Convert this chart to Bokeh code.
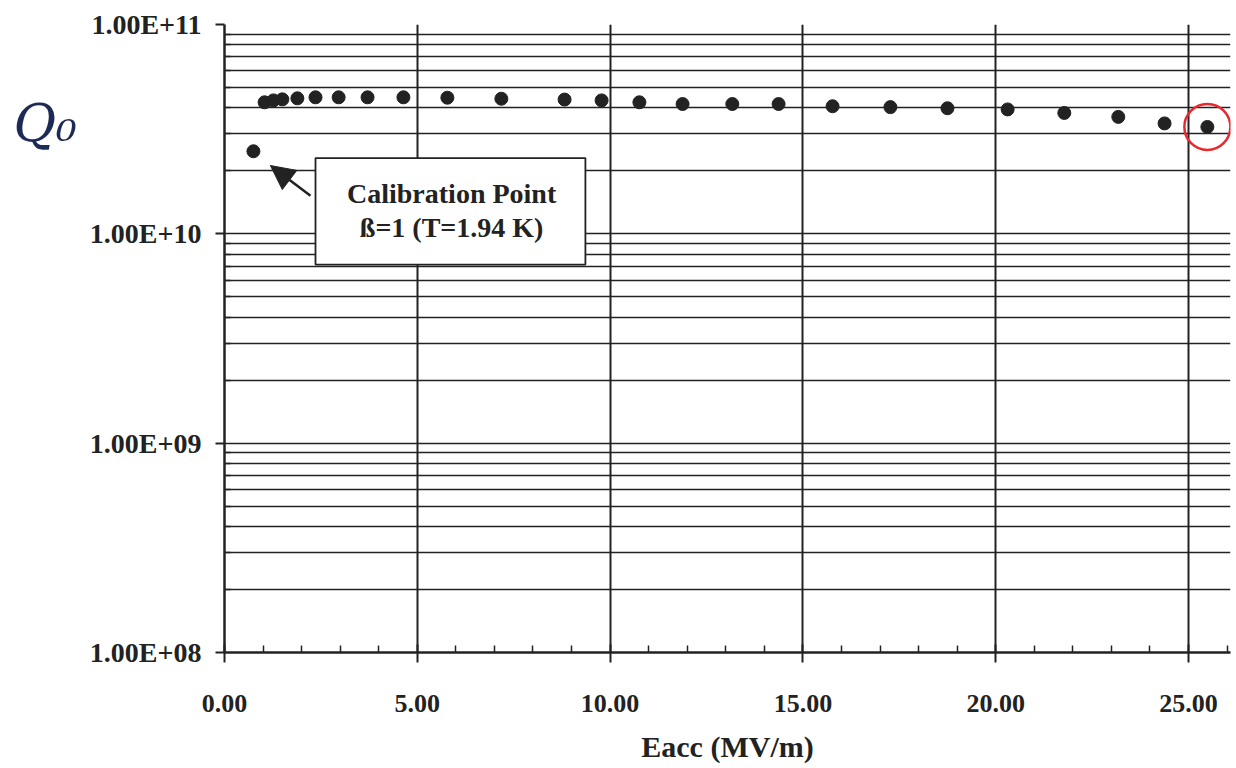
from bokeh.plotting import figure
from bokeh.models import (FixedTicker, CustomJSTickFormatter, Range1d, BoxAnnotation,
                          Label, Arrow, NormalHead)
from bokeh.embed import file_html
from bokeh.resources import INLINE

# ---- data ----
eacc = [0.75, 1.04, 1.27, 1.50, 1.89, 2.36, 2.96, 3.71, 4.64, 5.78, 7.18, 8.82, 9.78,
        10.76, 11.88, 13.17, 14.37, 15.77, 17.27, 18.75, 20.31, 21.78, 23.18, 24.38, 25.49]
q0 = [2.48e10, 4.25e10, 4.34e10, 4.39e10, 4.44e10, 4.49e10, 4.49e10, 4.49e10, 4.49e10,
      4.47e10, 4.42e10, 4.38e10, 4.34e10, 4.25e10, 4.17e10, 4.17e10, 4.17e10, 4.07e10,
      4.03e10, 3.98e10, 3.93e10, 3.78e10, 3.62e10, 3.37e10, 3.24e10]

x_tick_values = [0, 5, 10, 15, 20, 25]
x_tick_labels = ["0.00", "5.00", "10.00", "15.00", "20.00", "25.00"]
x_minor_values = [1, 2, 3, 4, 6, 7, 8, 9, 11, 12, 13, 14, 16, 17, 18, 19, 21, 22, 23, 24, 26]
y_tick_values = [1e8, 1e9, 1e10, 1e11]
y_tick_labels = ["1.00E+08", "1.00E+09", "1.00E+10", "1.00E+11"]
y_minor_values = [m * d for d in (1e8, 1e9, 1e10) for m in range(2, 10)]

FONT = "Liberation Serif"
INK = "#222222"

p = figure(width=1236, height=768, y_axis_type="log",
           x_range=Range1d(0, 26.09), y_range=Range1d(1e8, 1e11),
           output_backend="svg", toolbar_location=None,
           min_border_left=224, min_border_right=6, min_border_top=24, min_border_bottom=116)
p.background_fill_color = "white"
p.border_fill_color = "white"
p.outline_line_color = None

# tickers
xt = FixedTicker(ticks=x_tick_values, minor_ticks=x_minor_values)
yt = FixedTicker(ticks=y_tick_values, minor_ticks=y_minor_values)
p.xaxis.ticker = xt
p.yaxis.ticker = yt
p.xgrid.ticker = xt
p.ygrid.ticker = yt

fmt_code = """
let best = 0;
for (let i = 0; i < vals.length; i++) {
  if (Math.abs(vals[i] - tick) < Math.abs(vals[best] - tick)) best = i;
}
return labs[best];
"""
p.xaxis.formatter = CustomJSTickFormatter(args=dict(vals=x_tick_values, labs=x_tick_labels), code=fmt_code)
p.yaxis.formatter = CustomJSTickFormatter(args=dict(vals=y_tick_values, labs=y_tick_labels), code=fmt_code)

# grid
p.xgrid.grid_line_color = INK
p.xgrid.grid_line_width = 2
p.ygrid.grid_line_color = INK
p.ygrid.grid_line_width = 1.6
p.ygrid.minor_grid_line_color = INK
p.ygrid.minor_grid_line_width = 1.6

# axes
for ax in (p.xaxis, p.yaxis):
    ax.axis_line_color = INK
    ax.axis_line_width = 2.5
    ax.major_tick_line_color = INK
    ax.major_tick_line_width = 2
    ax.minor_tick_line_color = INK
    ax.minor_tick_line_width = 1.5
    ax.major_label_text_font = FONT
    ax.major_label_text_font_style = "bold"
    ax.major_label_text_color = INK

p.xaxis.major_tick_in = 8
p.xaxis.major_tick_out = 10
p.xaxis.minor_tick_in = 7
p.xaxis.minor_tick_out = 0
p.xaxis.major_label_text_font_size = "26px"
p.xaxis.major_label_standoff = 32
p.xaxis.axis_label = "Eacc (MV/m)"
p.xaxis.axis_label_text_font = FONT
p.xaxis.axis_label_text_font_style = "bold"
p.xaxis.axis_label_text_font_size = "30px"
p.xaxis.axis_label_text_color = INK
p.xaxis.axis_label_standoff = 15

p.yaxis.major_tick_in = 0
p.yaxis.major_tick_out = 9
p.yaxis.minor_tick_in = 6
p.yaxis.minor_tick_out = 0
p.yaxis.major_label_text_font_size = "28px"
p.yaxis.major_label_standoff = 14
# handwritten-style "Q0" label, lifted toward the top with trailing blank lines
p.yaxis.axis_label = "Q₀" + "\n" * 6
p.yaxis.axis_label_orientation = "horizontal"
p.yaxis.axis_label_text_font = "DejaVu Serif"
p.yaxis.axis_label_text_font_style = "italic"
p.yaxis.axis_label_text_font_size = "52px"
p.yaxis.axis_label_text_color = "#1c2a55"
p.yaxis.axis_label_standoff = 10

# data points
p.scatter(eacc, q0, size=13, color=INK)
# hand-drawn red circle around last point
p.scatter([eacc[-1]], [q0[-1]], size=46, fill_color=None, line_color="#e8282f", line_width=2.5)

# annotation box
box = BoxAnnotation(left=2.36, right=9.36, bottom=7.13e9, top=2.30e10,
                    fill_color="white", fill_alpha=1.0, line_color=INK, line_width=1.8,
                    line_alpha=1.0)
p.add_layout(box)
p.add_layout(Label(x=5.89, y=1.55e10, text="Calibration Point", text_font=FONT,
                   text_font_style="bold", text_font_size="28px", text_color=INK,
                   text_align="center", text_baseline="middle"))
p.add_layout(Label(x=5.89, y=1.078e10, text="ß=1 (T=1.94 K)", text_font=FONT,
                   text_font_style="bold", text_font_size="28px", text_color=INK,
                   text_align="center", text_baseline="middle"))
p.add_layout(Arrow(end=NormalHead(size=24, fill_color=INK, line_color=INK),
                   x_start=2.23, y_start=1.52e10, x_end=1.19, y_end=2.12e10,
                   line_color=INK, line_width=2.5))

open("out.html", "w").write(file_html(p, INLINE))
